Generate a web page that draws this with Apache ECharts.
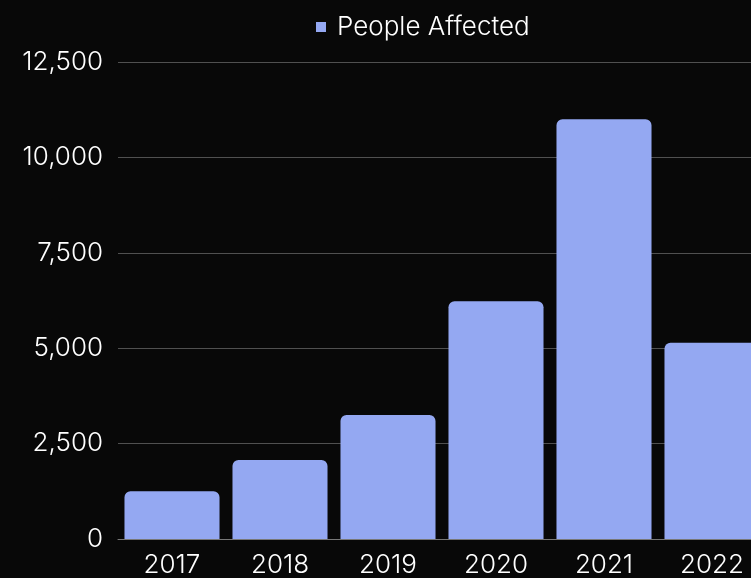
<!DOCTYPE html>
<html><head><meta charset="utf-8">
<script src="https://cdn.jsdelivr.net/npm/echarts@6/dist/echarts.min.js"></script>
<style>html,body{margin:0;padding:0;background:#080808;overflow:hidden;width:751px;height:578px;}#c{width:800px;height:610px;}</style>
</head><body><div id="c"></div>
<script>
const categories = ['2017','2018','2019','2020','2021','2022'];
const peopleAffected = [1250, 2070, 3250, 6230, 11000, 5140];
const seriesName = 'People Affected';
const yTicks = [0, 2500, 5000, 7500, 10000, 12500];

const chart = echarts.init(document.getElementById('c'), null, {renderer:'canvas'});
chart.setOption({
  backgroundColor: '#080808',
  animation: false,
  textStyle: {fontFamily: 'Inter', fontWeight: 300},
  legend: {
    data: [seriesName], left: 311, top: 9, icon: 'rect', itemWidth: 10, itemHeight: 10, itemGap: 8,
    textStyle: {color: '#ffffff', fontSize: 26, fontFamily: 'Inter', fontWeight: 300, padding: [0,0,0,6]}
  },
  grid: {left: 118, top: 62, width: 648, height: 477, containLabel: false, outerBoundsMode: 'none'},
  xAxis: {
    type: 'category', data: categories,
    axisLine: {show: true, lineStyle: {color: '#777', width: 1}},
    axisTick: {show: false},
    axisLabel: {color: '#ffffff', fontSize: 26, fontWeight: 300, margin: 13}
  },
  yAxis: {
    type: 'value', min: yTicks[0], max: yTicks[yTicks.length-1], interval: 2500,
    axisLine: {show: false}, axisTick: {show: false},
    splitLine: {lineStyle: {color: '#505050', width: 1}},
    axisLabel: {color: '#ffffff', fontSize: 26, fontWeight: 300, margin: 15,
      formatter: v => v.toLocaleString('en-US')}
  },
  series: [{
    name: seriesName, type: 'bar', data: peopleAffected,
    barCategoryGap: '12%',
    itemStyle: {color: '#94a8f2', borderRadius: [6,6,0,0]}
  }]
});
</script></body></html>
